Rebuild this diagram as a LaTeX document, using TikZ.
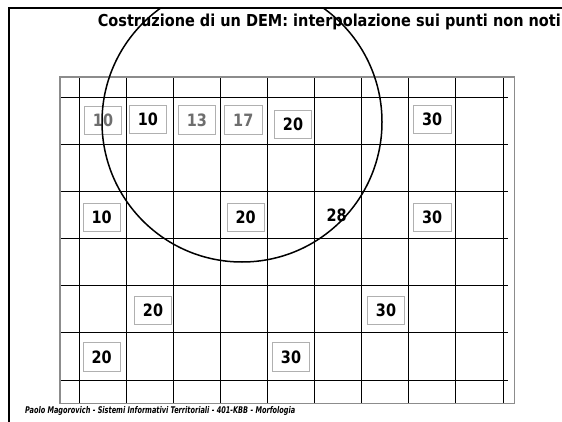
\documentclass[tikz,border=0pt]{standalone}
\usepackage{fontspec}
\usepackage{graphicx}
\setmainfont{DejaVu Sans}
\definecolor{boxgray}{RGB}{176,176,176}
\definecolor{framegray}{RGB}{140,140,140}
\definecolor{txtgray}{RGB}{110,110,110}
\newcommand{\valtxt}[1]{\scalebox{0.85}[1]{#1}}
\begin{document}
\begin{tikzpicture}[x=1pt,y=-1pt,
  gridline/.style={black, line width=1.4pt},
  valbox/.style={draw=boxgray, line width=0.8pt, fill=white, minimum width=37.4pt, minimum height=28.3pt, inner sep=0pt, font=\fontsize{17}{17}\selectfont\bfseries},
  greyval/.style={valbox, text=txtgray},
  plainval/.style={inner sep=0pt, font=\fontsize{17}{17}\selectfont\bfseries}]
\useasboundingbox (0,0) rectangle (562,422);
\fill[white] (0,0) rectangle (562,422);
% slide frame
\draw[black, line width=1.8pt] (9.3,422) -- (9.3,8.3) -- (562,8.3);
% grid
\foreach \yy in {97.5,144.5,191.5,238.5,285.5,332.5,380.5} {\draw[gridline] (60,\yy) -- (507.7,\yy);}
\foreach \xx in {79.5,126.5,173.5,220.5,267.5,314.5,361.5,408.5,455.5,503.5} {\draw[gridline] (\xx,77.3) -- (\xx,403.3);}
\draw[framegray, line width=1.6pt] (60,77.3) rectangle (514.5,403.3);
% values
\node[greyval] (g10) at (103,120.2) {\valtxt{10}};
\node[valbox] (a10) at (147.9,119.2) {\valtxt{10}};
\node[greyval] (g13) at (196.9,120) {\valtxt{13}};
\node[greyval] (g17) at (243.3,120) {\valtxt{17}};
\node[valbox] (a20) at (293,124.2) {\valtxt{20}};
\node[valbox] (a30) at (432.2,119.2) {\valtxt{30}};
\node[valbox] (b10) at (101.7,217.5) {\valtxt{10}};
\node[valbox] (b20) at (245.7,217.6) {\valtxt{20}};
\node[plainval] (b28) at (336.7,215) {\valtxt{28}};
\node[valbox] (b30) at (432.2,217.5) {\valtxt{30}};
\node[valbox] (c20) at (153,310.2) {\valtxt{20}};
\node[valbox] (c30) at (386,310.2) {\valtxt{30}};
\node[valbox] (d20) at (101.7,357) {\valtxt{20}};
\node[valbox] (d30) at (291,357) {\valtxt{30}};
% circle
\begin{scope}
\clip (9.3,8.3) rectangle (562,422);
\draw[black, line width=1.5pt] (242,122) circle (140pt);
\end{scope}
% title and footer
\node[anchor=base east, inner sep=0pt] (title) at (561,26.7) {\resizebox{463pt}{12.5pt}{\bfseries Costruzione di un DEM: interpolazione sui punti non noti}};
\node[anchor=base west, inner sep=0pt] (footer) at (25,413.3) {\resizebox{270pt}{7pt}{\bfseries\itshape Paolo Magorovich - Sistemi Informativi Territoriali - 401-KBB - Morfologia}};
\end{tikzpicture}
\end{document}
